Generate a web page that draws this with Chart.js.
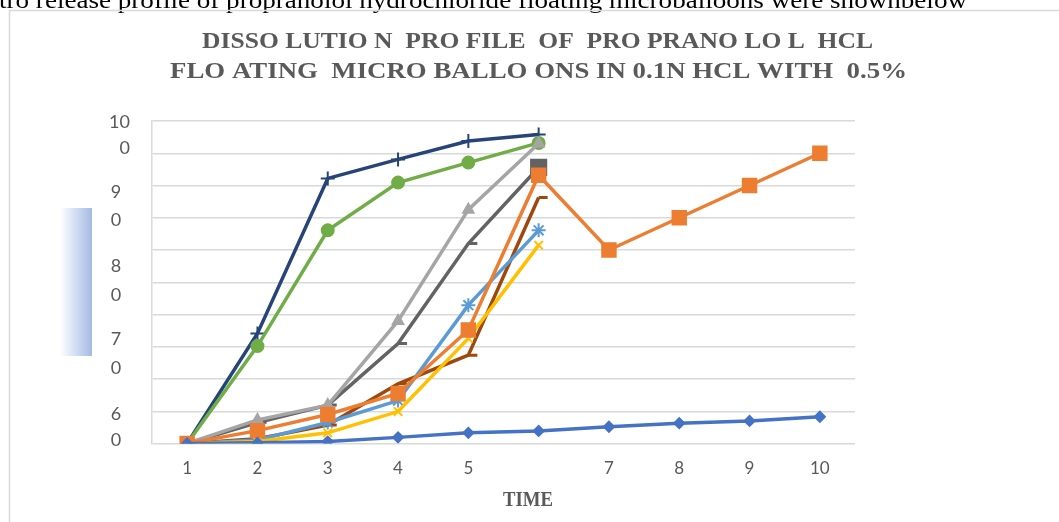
<!DOCTYPE html>
<html>
<head>
<meta charset="utf-8">
<script src="https://cdn.jsdelivr.net/npm/chart.js@4/dist/chart.umd.min.js"></script>
<style>
  html, body { margin: 0; padding: 0; background: #ffffff; }
  #wrap { position: relative; width: 1059px; height: 522px; overflow: hidden; }
  canvas { display: block; }
</style>
</head>
<body>
<div id="wrap"><canvas id="c" width="1059" height="522"></canvas></div>
<script>
// ---- data ----
const timeLabels = ['1', '2', '3', '4', '5', '', '7', '8', '9', '10'];
const series1 = [0, 0.2, 0.6, 1.9, 3.3, 3.9, 5.2, 6.3, 7.0, 8.3];
const series2 = [0, 4.0, 9.0, 15.5, 35.2, 83.2, 60, 70, 80, 90];
const series3 = [0, 7.3, 11.9, 38.0, 72.5, 93.0, null, null, null, null];
const series4 = [0, 0.6, 3.3, 9.9, 32.6, 61.5, null, null, null, null];
const series5 = [0, 1.1, 6.5, 13.3, 42.9, 66.1, null, null, null, null];
const series6 = [0, 30.2, 66.1, 80.9, 87.1, 93.2, null, null, null, null];
const series7 = [0, 34.1, 82.2, 88.1, 93.8, 95.8, null, null, null, null];
const series8 = [0, 1.5, 5.7, 18.5, 27.4, 76.3, null, null, null, null];
const series9 = [0, 6.5, 11.9, 31.0, 62.0, 85.6, null, null, null, null];
const yTickLabels = ['10', '0', '9', '0', '8', '0', '7', '0', '6', '0'];
const titleLines = ['DISSO LUTIO N  PRO FILE  OF  PRO PRANO LO L  HCL',
                    'FLO ATING  MICRO BALLO ONS IN 0.1N HCL WITH  0.5%'];
const xTitle = 'TIME';
const pageText = 'tro release profile of propranolol hydrochloride floating microballoons were shownbelow';

// ---- layout (not data) ----
const yLabelSpots = [[130, 99.5, 'right'], [130, 91.5, 'right'], [116, 77.8, 'center'], [116, 69.3, 'center'],
                     [116, 55.0, 'center'], [116, 46.0, 'center'], [116, 32.3, 'center'], [116, 23.3, 'center'],
                     [116, 9.1, 'center'], [116, 0.9, 'center']];

const decor = {
  id: 'decor',
  beforeDraw(chart) {
    const ctx = chart.ctx;
    ctx.save();
    ctx.fillStyle = '#ffffff';
    ctx.fillRect(0, 0, chart.width, chart.height);
    // page text cut at top
    ctx.fillStyle = '#000000';
    ctx.font = '24px "Liberation Serif"';
    ctx.textBaseline = 'alphabetic';
    ctx.textAlign = 'left';
    const w0 = ctx.measureText(pageText).width;
    ctx.save();
    ctx.translate(-1, 7.5);
    ctx.scale(968 / w0, 1);
    ctx.fillText(pageText, 0, 0);
    ctx.restore();
    // box
    ctx.strokeStyle = '#d9d9d9';
    ctx.lineWidth = 1.5;
    ctx.beginPath();
    ctx.moveTo(9.5, 522);
    ctx.lineTo(9.5, 10.5);
    ctx.lineTo(1059, 10.5);
    ctx.stroke();
    // title
    ctx.fillStyle = '#595959';
    ctx.font = 'bold 24px "Liberation Serif"';
    ctx.textBaseline = 'middle';
    ctx.textAlign = 'center';
    const spans = [[202, 873, 42], [170, 907, 72]];
    titleLines.forEach((t, i) => {
      const [a, b, y] = spans[i];
      const w = ctx.measureText(t).width;
      ctx.save();
      ctx.translate((a + b) / 2, y);
      ctx.scale((b - a) / w, 1);
      ctx.fillText(t, 0, 0);
      ctx.restore();
    });
    // x axis title
    ctx.font = 'bold 20px "Liberation Serif"';
    const tw = ctx.measureText(xTitle).width;
    ctx.save();
    ctx.translate(528, 501);
    ctx.scale(50 / tw, 1);
    ctx.fillText(xTitle, 0, 0);
    ctx.restore();
    // gradient bar
    const g = ctx.createLinearGradient(60, 0, 92, 0);
    g.addColorStop(0, '#ffffff');
    g.addColorStop(1, '#a3bbe3');
    ctx.fillStyle = g;
    ctx.fillRect(60, 208, 32, 148);
    // y labels
    const ys = chart.scales.y;
    ctx.fillStyle = '#595959';
    ctx.font = '18px Lato, "Open Sans", sans-serif';
    ctx.textBaseline = 'middle';
    yTickLabels.forEach((t, i) => {
      const [x, v, al] = yLabelSpots[i];
      ctx.textAlign = al;
      ctx.fillText(t, x, ys.getPixelForValue(v));
    });
    ctx.restore();
  }
};

const mk = (label, data, color, style, radius, extra) => Object.assign({
  label, data, borderColor: color, backgroundColor: color,
  borderWidth: 3.5, pointStyle: style, pointRadius: radius,
  pointBorderWidth: 2, pointBackgroundColor: color, pointBorderColor: color,
  spanGaps: false, tension: 0
}, extra || {});

new Chart(document.getElementById('c'), {
  type: 'line',
  data: {
    labels: timeLabels,
    datasets: [
      mk('Series1', series1, '#4472C4', 'rectRot', 5),
      mk('Series2', series2, '#ED7D31', 'rect', 9.5),
      mk('Series3', series3, '#A5A5A5', 'triangle', 6),
      mk('Series4', series4, '#FFC000', 'crossRot', 6),
      mk('Series5', series5, '#5B9BD5', 'star', 7),
      mk('Series6', series6, '#70AD47', 'circle', 6),
      mk('Series7', series7, '#264478', 'cross', 7),
      mk('Series8', series8, '#9E480E', 'dash', 9, { pointBorderWidth: 3 }),
      mk('Series9', series9, '#636363', ['dash', 'dash', 'dash', 'dash', 'dash', 'rect'], [9, 9, 9, 9, 9, 10], { pointBorderWidth: 3 })
    ]
  },
  options: {
    responsive: false,
    animation: false,
    devicePixelRatio: 1,
    layout: { padding: { left: 152, right: 204, top: 121, bottom: 0 } },
    plugins: { legend: { display: false }, title: { display: false }, tooltip: { enabled: false } },
    scales: {
      x: {
        offset: true,
        grid: { display: false },
        border: { display: false },
        ticks: { color: '#595959', font: { family: 'Lato, "Open Sans", sans-serif', size: 17 }, padding: 7, maxRotation: 0, autoSkip: false },
        afterFit(s) { s.height = 78.5; }
      },
      y: {
        min: 0, max: 100,
        ticks: { stepSize: 10, display: false },
        grid: { color: '#d9d9d9', lineWidth: 1.5, drawTicks: false },
        border: { display: true, color: '#d9d9d9', width: 1.5 },
        afterFit(s) { s.width = 0; }
      }
    }
  },
  plugins: [decor]
});
</script>
</body>
</html>
